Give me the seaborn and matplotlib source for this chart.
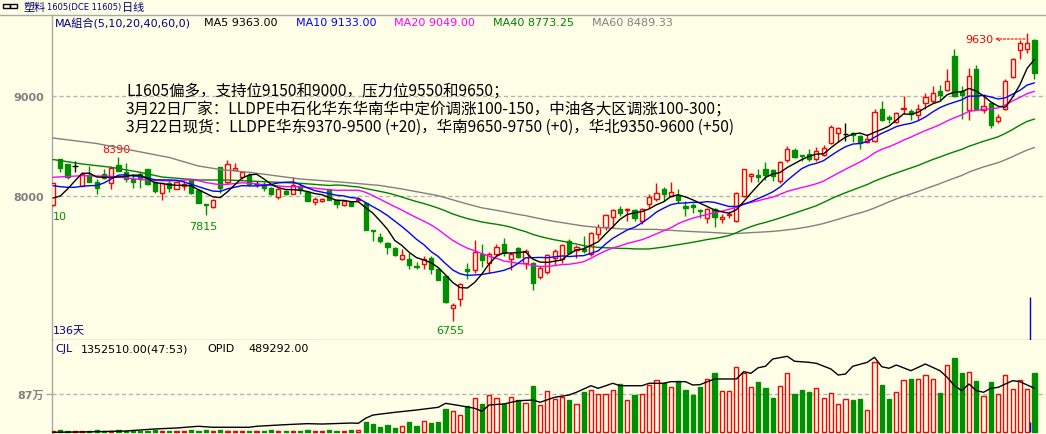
import numpy as np
import pandas as pd
import matplotlib
matplotlib.use("Agg")
import matplotlib.pyplot as plt
import seaborn as sns
from matplotlib.patches import Rectangle
from matplotlib.lines import Line2D

# ---------------- data ----------------
opens = [7910, 8370, 8320, 8300, 8105, 8210, 8145, 8220, 8135, 8310,
         8245, 8175, 8225, 8270, 8145, 8035, 8135, 8070, 8100, 8170,
         8065, 7920, 7890, 8295, 8145, 8265, 8195, 8210, 8120, 8125,
         8085, 7995, 8055, 8025, 8100, 8045, 7945, 7950, 8070, 7960,
         7910, 7945, 7960, 7935, 7665, 7595, 7530, 7480, 7375, 7375,
         7305, 7320, 7380, 7270, 7205, 6885, 6970, 7270, 7265, 7425,
         7330, 7425, 7525, 7375, 7480, 7330, 7335, 7195, 7245, 7385,
         7375, 7555, 7460, 7475, 7420, 7625, 7695, 7795, 7875, 7860,
         7860, 7755, 7920, 7970, 8075, 8005, 8010, 7905, 7910, 7860,
         7785, 7870, 7775, 7810, 7755, 8005, 8205, 8210, 8275, 8260,
         8155, 8365, 8460, 8415, 8420, 8370, 8410, 8530, 8635, 8620,
         8635, 8605, 8545, 8555, 8870, 8795, 8745, 8870, 8855, 8815,
         8930, 8955, 9055, 9060, 9405, 9055, 8865, 9275, 8865, 8935,
         8755, 8870, 9195, 9465, 9475, 9565]
highs = [8135, 8375, 8320, 8350, 8240, 8300, 8175, 8275, 8300, 8390,
         8335, 8220, 8240, 8275, 8150, 8130, 8160, 8155, 8155, 8175,
         8070, 7920, 7970, 8295, 8360, 8330, 8255, 8235, 8150, 8145,
         8095, 8085, 8065, 8195, 8120, 8050, 7995, 7980, 8075, 7970,
         7960, 7955, 7985, 7940, 7665, 7635, 7545, 7495, 7475, 7435,
         7345, 7405, 7405, 7275, 7210, 6935, 7135, 7335, 7560, 7520,
         7445, 7520, 7585, 7445, 7495, 7470, 7345, 7305, 7425, 7470,
         7520, 7575, 7510, 7605, 7645, 7720, 7820, 7870, 7905, 7885,
         7875, 7885, 8025, 8135, 8095, 8145, 8070, 7955, 7935, 7870,
         7885, 7885, 7825, 7850, 8045, 8275, 8235, 8270, 8345, 8270,
         8355, 8505, 8485, 8415, 8470, 8495, 8510, 8710, 8695, 8735,
         8645, 8610, 8620, 8870, 8955, 8815, 8845, 9005, 8875, 8920,
         9035, 9105, 9110, 9275, 9475, 9105, 9285, 9310, 9020, 8945,
         8820, 9175, 9385, 9565, 9630, 9570]
lows = [7905, 8240, 8170, 8245, 8100, 8140, 8025, 8170, 8075, 8250,
        8145, 8085, 8080, 8115, 8030, 7965, 8045, 8070, 8060, 8020,
        7930, 7815, 7880, 8035, 8125, 8265, 8175, 8105, 8090, 8055,
        8010, 7975, 8010, 8025, 8020, 7950, 7910, 7940, 7960, 7885,
        7905, 7900, 7950, 7660, 7555, 7530, 7420, 7400, 7365, 7270,
        7270, 7270, 7220, 7160, 6935, 6755, 6905, 7170, 7235, 7295,
        7235, 7405, 7405, 7260, 7380, 7270, 7065, 7170, 7220, 7310,
        7330, 7420, 7380, 7435, 7405, 7570, 7665, 7695, 7805, 7755,
        7755, 7725, 7885, 7955, 7955, 7995, 7930, 7805, 7835, 7785,
        7735, 7695, 7735, 7780, 7745, 7995, 8145, 8145, 8165, 8155,
        8135, 8345, 8385, 8355, 8355, 8355, 8405, 8520, 8545, 8555,
        8545, 8475, 8530, 8545, 8755, 8730, 8735, 8820, 8765, 8765,
        8870, 8935, 8955, 9055, 8995, 8770, 8760, 8865, 8835, 8685,
        8730, 8865, 9185, 9370, 9430, 9175]
closes = [8130, 8280, 8195, 8300, 8225, 8145, 8085, 8185, 8285, 8255,
          8175, 8145, 8175, 8120, 8055, 8130, 8085, 8145, 8120, 8030,
          7935, 7910, 7960, 8085, 8320, 8285, 8245, 8120, 8120, 8085,
          8020, 8075, 8025, 8110, 8060, 7955, 7970, 7970, 7965, 7925,
          7950, 7905, 7970, 7665, 7655, 7555, 7495, 7410, 7410, 7310,
          7295, 7375, 7275, 7165, 6945, 6910, 7125, 7255, 7445, 7365,
          7425, 7495, 7435, 7425, 7395, 7455, 7135, 7285, 7410, 7455,
          7515, 7435, 7495, 7455, 7635, 7695, 7815, 7860, 7830, 7875,
          7780, 7875, 7995, 8035, 8025, 8045, 7960, 7885, 7895, 7855,
          7870, 7795, 7795, 7825, 8030, 8270, 8220, 8195, 8210, 8205,
          8345, 8470, 8395, 8405, 8370, 8455, 8485, 8695, 8685, 8620,
          8610, 8535, 8575, 8845, 8765, 8775, 8835, 8885, 8820, 8875,
          8995, 9035, 9010, 9150, 9005, 9010, 9205, 8875, 8905, 8710,
          8795, 9155, 9375, 9530, 9535, 9230]
# volume, in 万手
volumes = [3, 5, 3, 3, 3, 4, 5, 3, 4, 5, 3, 5, 3, 4, 5, 3, 4, 3, 3, 5,
           4, 5, 3, 5, 4, 3, 3, 4, 3, 4, 5, 3, 4, 3, 4, 5, 3, 3, 5, 4,
           3, 6, 6, 23, 20, 13, 17, 10, 14, 24, 14, 26, 21, 23, 52, 49,
           39, 60, 78, 65, 85, 78, 65, 80, 74, 67, 106, 62, 94, 76, 80,
           74, 64, 91, 96, 87, 87, 96, 111, 74, 86, 87, 108, 119, 112,
           103, 116, 96, 86, 104, 122, 135, 94, 94, 148, 135, 103, 115,
           101, 78, 105, 135, 87, 96, 92, 100, 78, 89, 64, 75, 74, 76,
           51, 160, 108, 76, 92, 119, 122, 121, 130, 121, 90, 153, 169,
           135, 137, 117, 82, 115, 87, 130, 98, 119, 98, 135.25]
# open interest (万手), read at these bar indices
oi_idx = [0, 5, 10, 14, 17, 20, 22, 27, 28, 32, 35, 37, 41, 42, 43, 44, 47,
          50, 53, 54, 56, 58, 59, 60, 62, 64, 66, 67, 69, 71, 72, 74, 75,
          77, 78, 81, 82, 84, 85, 87, 88, 89, 91, 94, 95, 96, 97, 98, 99,
          101, 102, 104, 105, 107, 108, 109, 110, 112, 113, 114, 115, 116,
          118, 120, 122, 123, 124, 125, 126, 127, 128, 129, 130, 132, 133,
          134, 135]
oi_vals = [0.0, 0.5, 1.4, 3.7, 4.8, 6.7, 5.6, 5.6, 6.7, 8.5, 9.6, 9.2, 10.3,
           10.0, 15.6, 19.2, 22.2, 24.8, 27.8, 32.2, 29.6, 26.7, 23.4, 30.4,
           31.5, 35.1, 35.9, 33.4, 38.9, 41.5, 44.5, 51.8, 48.9, 54.5, 51.8,
           51.8, 54.5, 54.5, 56.3, 56.3, 52.6, 53.0, 59.3, 59.3, 67.4, 65.6,
           71.8, 73.4, 81.5, 84.5, 79.0, 77.8, 76.7, 70.4, 63.7, 64.8, 73.4,
           77.8, 83.4, 72.9, 71.2, 74.8, 68.5, 75.9, 68.5, 61.2, 51.8, 46.3,
           53.7, 46.3, 44.5, 48.9, 50.0, 57.4, 56.3, 52.6, 48.93]
# moving-average values before the window has enough bars
ma5_head_idx, ma5_head = [0, 1, 2, 3], [7980, 8000, 8070, 8150]
ma10_head_idx = [0, 1, 2, 3, 4, 5, 6, 7, 8]
ma10_head = [8103, 8093, 8087, 8087, 8097, 8103, 8105, 8130, 8170]
ma20_head_idx, ma20_head = [0, 4, 8, 12, 16, 18], [8187, 8203, 8197, 8165, 8150, 8158]
ma40_head_idx = [0, 4, 8, 12, 15, 20, 24, 29, 34, 38]
ma40_head = [8365, 8320, 8287, 8237, 8190, 8160, 8160, 8143, 8127, 8105]
ma60_head_idx = [0, 6, 11, 16, 20, 23, 27, 34, 40, 45, 48, 53, 57]
ma60_head = [8580, 8525, 8455, 8385, 8300, 8265, 8237, 8170, 8137, 8105, 8070, 8003, 7920]

legend_items = [("MA組合(5,10,20,40,60,0)", "#000080"), ("MA5 9363.00", "black"),
                ("MA10 9133.00", "#0000FF"), ("MA20 9049.00", "#FF00FF"),
                ("MA40 8773.25", "#008000"), ("MA60 8489.33", "#808080")]
notes = ["L1605偏多，支持位9150和9000，压力位9550和9650；",
         "3月22日厂家：LLDPE中石化华东华南华中定价调涨100-150，中油各大区调涨100-300；",
         "3月22日现货：LLDPE华东9370-9500 (+20)，华南9650-9750 (+0)，华北9350-9600 (+50)"]
title_parts = ["塑料", "1605(DCE 11605)", "日线"]
price_ticks = [8000, 9000]
vol_tick = 87

# ---------------- style ----------------
BG = "#FFFFE8"
RED = "#FF0000"
GREEN = "#008F00"
GRID = "#B4B4B4"
AXC = "#A8A8A8"
sns.set_theme(style="white", rc={"axes.facecolor": BG, "figure.facecolor": BG})
plt.rcParams["font.family"] = ["DejaVu Sans", "Noto Sans CJK SC"]

W, H = 1046, 435
fig = plt.figure(figsize=(W / 100, H / 100), dpi=100)
fig.patch.set_facecolor(BG)

x_left = (52 - 53) / 7.27
x_right = (W - 53) / 7.27
ax = fig.add_axes([52 / W, 1 - 341 / H, (W - 52) / W, (341 - 16) / H])
axv = fig.add_axes([52 / W, 0, (W - 52) / W, (435 - 341) / H])
for a in (ax, axv):
    a.set_facecolor(BG)
    a.set_xlim(x_left, x_right)
    a.set_xticks([])
    for s in a.spines.values():
        s.set_visible(False)
    a.spines["left"].set_visible(True)
    a.spines["left"].set_color(AXC)
    a.spines["left"].set_linewidth(1.0)
ax.spines["bottom"].set_visible(True)
ax.spines["bottom"].set_color(AXC)
ax.spines["bottom"].set_linewidth(1.0)

ax.set_ylim(6560, 9810)
axv.set_ylim(-3.88, 210.5)

# grid lines
for p in price_ticks:
    ax.axhline(p, color=GRID, lw=1.0, ls=(0, (3, 2)), zorder=0)
axv.axhline(vol_tick, color=GRID, lw=1.0, ls=(0, (3, 2)), zorder=0)

ax.set_yticks(price_ticks)
ax.set_yticklabels([str(p) for p in price_ticks])
axv.set_yticks([vol_tick])
axv.set_yticklabels([f"{vol_tick}万"])
for a in (ax, axv):
    a.tick_params(axis="y", length=4, width=1, color=AXC, pad=2,
                  labelsize=8, labelcolor="#808080")
    for t in a.get_yticklabels():
        t.set_fontweight("bold")

# ---------------- candles ----------------
n = len(closes)
w = 0.58
for i in range(n):
    o, h, l, c = opens[i], highs[i], lows[i], closes[i]
    col = RED if c > o else (GREEN if c < o else "black")
    top, bot = max(o, c), min(o, c)
    ax.vlines(i, top, h, color=col, lw=1.0, zorder=3)
    ax.vlines(i, l, bot, color=col, lw=1.0, zorder=3)
    if c == o:
        ax.hlines(c, i - w / 2 - 0.1, i + w / 2 + 0.1, color=col, lw=1.0, zorder=3)
    else:
        ax.add_patch(Rectangle((i - w / 2, bot), w, top - bot,
                               facecolor=(BG if c > o else col), edgecolor=col,
                               lw=1.0, zorder=4))

# ---------------- moving averages ----------------
cs = pd.Series(closes, dtype=float)


def ma_frame(period, head_idx, head_vals):
    roll = cs.rolling(period).mean()
    xs = list(head_idx) + list(range(period - 1, n))
    ys = list(head_vals) + list(roll.iloc[period - 1:])
    return pd.DataFrame({"x": xs, "y": ys})


for period, hi, hv, col in [(60, ma60_head_idx, ma60_head, "#808080"),
                            (40, ma40_head_idx, ma40_head, "#008000"),
                            (20, ma20_head_idx, ma20_head, "#FF00FF"),
                            (10, ma10_head_idx, ma10_head, "#0000FF"),
                            (5, ma5_head_idx, ma5_head, "black")]:
    df = ma_frame(period, hi, hv)
    sns.lineplot(data=df, x="x", y="y", ax=ax, color=col, lw=1.0,
                 estimator=None, sort=False, zorder=5)
ax.set_xlabel("")
ax.set_ylabel("")
ax.set_xlim(x_left, x_right)

# ---------------- volume ----------------
for i in range(n):
    up = closes[i] >= opens[i]
    col = RED if up else GREEN
    axv.add_patch(Rectangle((i - w / 2, 0), w, volumes[i],
                            facecolor=(BG if up else col), edgecolor=col,
                            lw=1.0, zorder=3))
axo = axv.twinx()
axo.set_ylim(-3.88 * 1112 / 2280.8, 210.5 * 1112 / 2280.8)
axo.set_xlim(x_left, x_right)
for s in axo.spines.values():
    s.set_visible(False)
axo.set_yticks([])
sns.lineplot(x=oi_idx, y=oi_vals, ax=axo, color="black", lw=1.0,
             estimator=None, sort=False, zorder=6)
axo.set_xlim(x_left, x_right)
axo.set_ylabel("")
axv.set_xlabel("")
axv.set_ylabel("")

# cursor line
ax.vlines(134.4, 6560, 6990, color="#0000C0", lw=1.0, zorder=7)
axv.vlines(134.4, 0, 23, color="#0000C0", lw=1.0, zorder=7)

# ---------------- labels on chart ----------------
ax.annotate("8390", xy=(9, highs[9]), xytext=(-2, 8), textcoords="offset pixels",
            ha="center", va="center", color=RED, fontsize=8)
ax.annotate("7815", xy=(21, lows[21]), xytext=(-2, -11), textcoords="offset pixels",
            ha="center", va="center", color=GREEN, fontsize=8)
ax.annotate("6755", xy=(55, lows[55]), xytext=(-3, -10), textcoords="offset pixels",
            ha="center", va="center", color=GREEN, fontsize=8)
ax.annotate("10", xy=(x_left, lows[0]), xytext=(1, -10), textcoords="offset pixels",
            ha="left", va="center", color=GREEN, fontsize=8)
ax.annotate("", xy=(129.6, 9570), xytext=(133.7, 9570),
            arrowprops=dict(arrowstyle="->", color=RED, lw=0.8,
                            linestyle=(0, (2, 1.5)), shrinkA=0, shrinkB=0,
                            mutation_scale=6))
ax.text(129.3, 9570, "9630", ha="right", va="center", color=RED, fontsize=8)


# ---------------- header texts ----------------
def ftext(xp, yp, s, **kw):
    return fig.text(xp / W, 1 - yp / H, s, va="center", ha="left", **kw)


ftext(53, 331.5, "136天", color="#000080", fontsize=8)

fig.add_artist(Line2D([0, 1], [1 - 16 / H, 1 - 16 / H], transform=fig.transFigure,
                      color=AXC, lw=1.0))
# chain icon
for xo in (3, 10):
    fig.add_artist(Rectangle((xo / W, 1 - 9 / H), 7 / W, 4 / H, transform=fig.transFigure,
                             facecolor="none", edgecolor="black", lw=1.0))
renderer = fig.canvas.get_renderer()
xp = 24
for part, fs, fam in [(title_parts[0], 8, ["Noto Sans CJK SC"]),
                      (title_parts[1], 6.0, ["DejaVu Sans"]),
                      (title_parts[2], 8, ["Noto Sans CJK SC"])]:
    t = ftext(xp, 7.5, part, color="#000080", fontsize=fs, family=fam)
    xp += t.get_window_extent(renderer).width + 0.5

leg_x = [55, 203.5, 295.5, 394.3, 493.3, 592.3]
for xq, (s, col) in zip(leg_x, legend_items):
    ftext(xq, 23.5, s, color=col, fontsize=8)

for k, s in enumerate(notes):
    ftext(126, 91 + 18.3 * k, s, color="black", fontsize=11.2,
          family=["Noto Sans CJK SC", "DejaVu Sans"])

ftext(55, 349.5, "CJL", color="#000080", fontsize=8)
ftext(81, 349.5, "1352510.00(47:53)", color="black", fontsize=8)
ftext(207.5, 349.5, "OPID", color="black", fontsize=8)
ftext(248, 349.5, "489292.00", color="black", fontsize=8)

fig.savefig("out.png", dpi=100, facecolor=BG)
